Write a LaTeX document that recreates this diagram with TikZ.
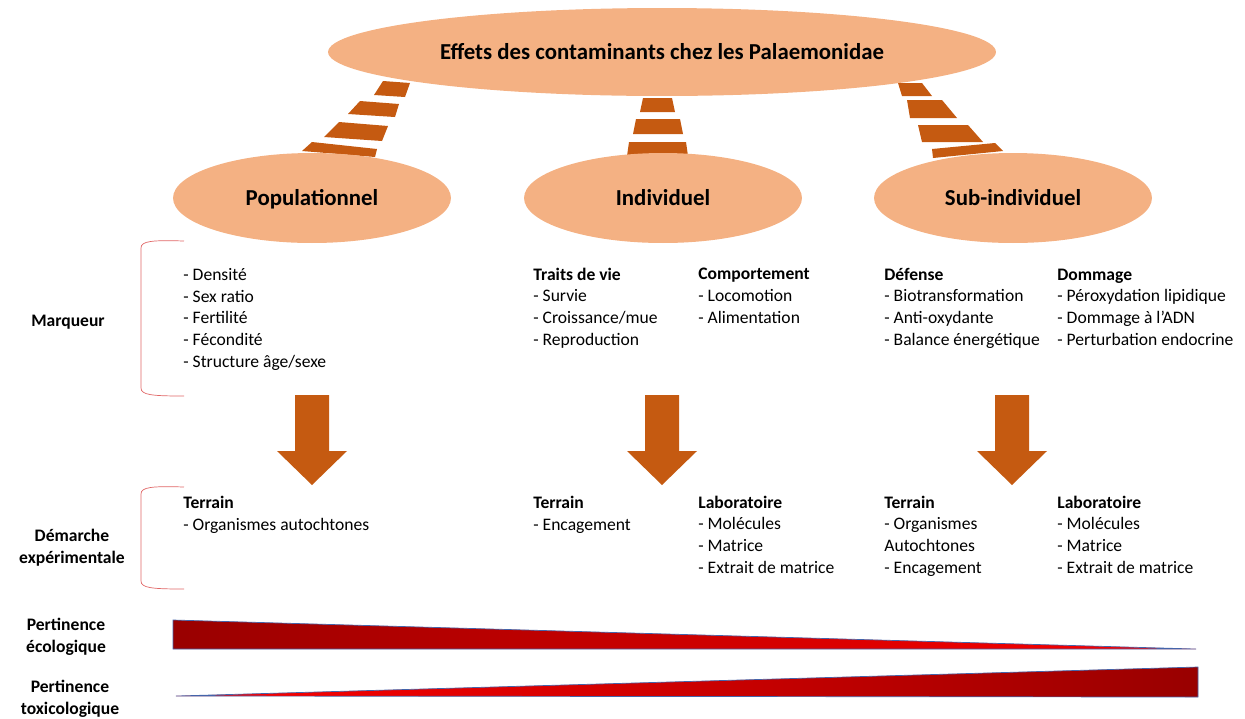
\documentclass[tikz,border=0pt]{standalone}
\usepackage{fontspec}
\setmainfont{Carlito}
\usetikzlibrary{shapes.geometric}

\definecolor{saumon}{RGB}{244,177,131}
\definecolor{rouille}{RGB}{197,90,17}
\definecolor{accolade}{RGB}{224,102,102}
\definecolor{rougefonce}{RGB}{153,0,0}
\definecolor{rougevif}{RGB}{255,0,0}
\definecolor{bordbleu}{RGB}{68,100,170}

\tikzset{
  niveau/.style={ellipse, fill=saumon, inner sep=0pt, text height=10pt, text depth=2pt, font=\fontsize{13}{15}\selectfont\bfseries},
  liste/.style={anchor=base west, align=left, inner sep=0pt, font=\fontsize{10}{12.3}\selectfont},
  etiquette/.style={anchor=base, align=center, inner sep=0pt, font=\fontsize{10}{12.3}\selectfont\bfseries},
  barre/.style={fill=rouille},
  crochet/.style={draw=accolade, thin},
}

\begin{document}
\begin{tikzpicture}[x=0.02cm, y=-0.02cm]

\useasboundingbox (0,0) rectangle (1245,718);

% Barres vers les niveaux
\fill[barre] (383,81) -- (410,83) -- (405,97) -- (374,95) -- cycle;
\fill[barre] (360,101) -- (399,104) -- (395,117) -- (348,114) -- cycle;
\fill[barre] (339,122) -- (388,126) -- (382,141) -- (324,137) -- cycle;
\fill[barre] (312,142) -- (377,149) -- (375,157) -- (302,151) -- cycle;

\fill[barre] (643,98) -- (672,98) -- (675,112) -- (640,112) -- cycle;
\fill[barre] (636,119) -- (680,119) -- (683,134) -- (633,134) -- cycle;
\fill[barre] (629,142) -- (686,142) -- (688,156) -- (627,156) -- cycle;

\fill[barre] (898,83) -- (922,83) -- (932,96) -- (902,96) -- cycle;
\fill[barre] (907,100) -- (942,100) -- (957,118) -- (910,118) -- cycle;
\fill[barre] (918,125) -- (968,125) -- (983,142) -- (922,142) -- cycle;
\fill[barre] (932,149) -- (995,143) -- (1003,151) -- (933,158) -- cycle;

% Titre
\node[niveau, minimum width=13.36cm, minimum height=1.76cm] (titre) at (662,52) {Effets des contaminants chez les Palaemonidae};

% Niveaux
\node[niveau, minimum width=5.56cm, minimum height=1.8cm] (pop) at (312,198) {Populationnel};
\node[niveau, minimum width=5.56cm, minimum height=1.8cm] (indiv) at (663,198) {Individuel};
\node[niveau, minimum width=5.56cm, minimum height=1.8cm] (subindiv) at (1013,198) {Sub-individuel};

% Etiquettes a gauche (ancre = ligne de base de la derniere ligne)
\node[etiquette] (lblMarqueur) at (68,326) {Marqueur};
\node[etiquette] (lblDemarche) at (72,563) {Démarche\\expérimentale};
\node[etiquette] (lblEco) at (66,652) {Pertinence\\écologique};
\node[etiquette] (lblToxico) at (70,714) {Pertinence\\toxicologique};

% Crochets
\draw[crochet] (184,241) .. controls (152,240) and (141,241) .. (141,248) -- (141,388) .. controls (141,395) and (152,396) .. (184,396);
\draw[crochet] (184,487) .. controls (152,486) and (141,487) .. (141,494) -- (141,581) .. controls (141,588) and (152,589) .. (184,589);

% Marqueurs
\node[liste] (marqPop) at (183,367) {- Densité\\- Sex ratio\\- Fertilité\\- Fécondité\\- Structure âge/sexe};
\node[liste] (traits) at (533,345) {\textbf{Traits de vie}\\- Survie\\- Croissance/mue\\- Reproduction};
\node[liste] (comport) at (698,323) {\textbf{Comportement}\\- Locomotion\\- Alimentation};
\node[liste] (defense) at (884,345) {\textbf{Défense}\\- Biotransformation\\- Anti-oxydante\\- Balance énergétique};
\node[liste] (dommage) at (1057,345) {\textbf{Dommage}\\- Péroxydation lipidique\\- Dommage à l’ADN\\- Perturbation endocrine};

% Fleches
\foreach \cx in {312,662,1012}{
  \fill[barre] (\cx-17,395) -- (\cx+17,395) -- (\cx+17,451) -- (\cx+35,451) -- (\cx,485) -- (\cx-35,451) -- (\cx-17,451) -- cycle;
}

% Demarche experimentale
\node[liste] (terrainPop) at (183,530) {\textbf{Terrain}\\- Organismes autochtones};
\node[liste] (terrainInd) at (533,530) {\textbf{Terrain}\\- Encagement};
\node[liste] (laboInd) at (698,573) {\textbf{Laboratoire}\\- Molécules\\- Matrice\\- Extrait de matrice};
\node[liste] (terrainSub) at (884,573) {\textbf{Terrain}\\- Organismes\\Autochtones\\- Encagement};
\node[liste] (laboSub) at (1057,573) {\textbf{Laboratoire}\\- Molécules\\- Matrice\\- Extrait de matrice};

% Pertinence
\shadedraw[left color=rougefonce, right color=rougevif, draw=bordbleu, thin] (173,620) -- (1196,649) -- (173,649) -- cycle;
\shadedraw[left color=rougevif, right color=rougefonce, draw=bordbleu, thin] (176,696) -- (1198,667) -- (1198,697) -- cycle;

\end{tikzpicture}
\end{document}
